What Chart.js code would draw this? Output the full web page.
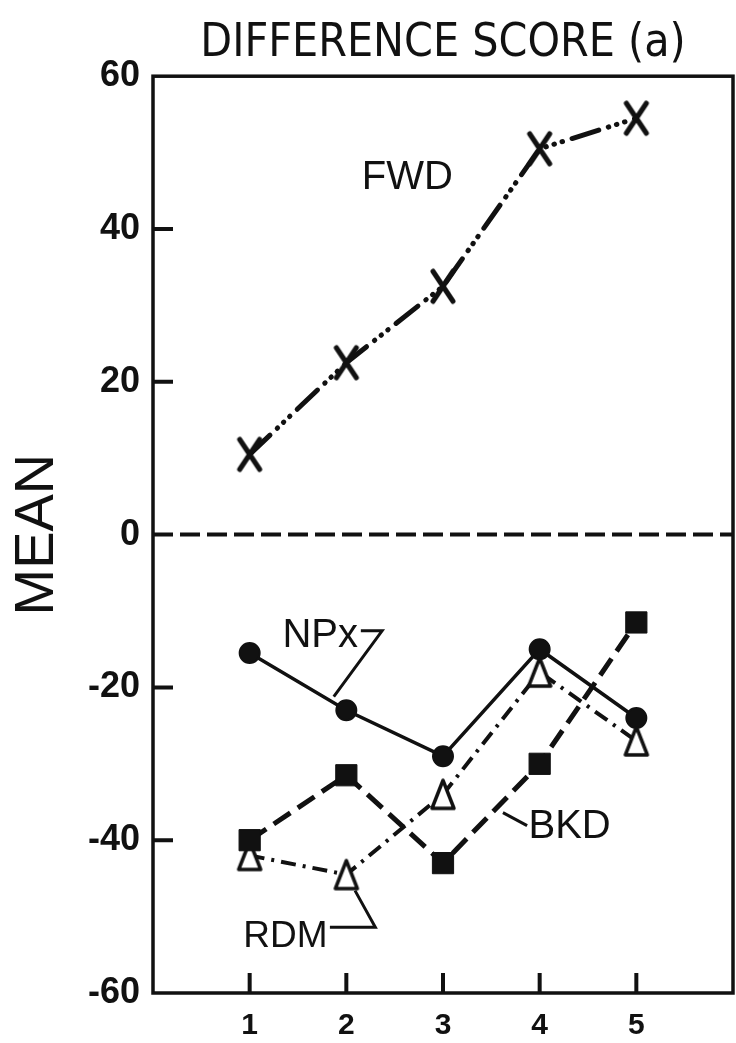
<!DOCTYPE html>
<html>
<head>
<meta charset="utf-8">
<script src="https://cdn.jsdelivr.net/npm/chart.js@4/dist/chart.umd.min.js"></script>
<style>
    html, body { margin: 0; padding: 0; background: #fff; }
    #chart { display: block; }
</style>
</head>
<body>
<canvas id="chart" width="736" height="1043"></canvas>
<script>
// ---- Data ----

const sessions = [1, 2, 3, 4, 5];
const fwdMeans = [10.5, 22.5, 32.5, 50.5, 54.5];
const npxMeans = [-15.5, -23, -29, -15, -24];
const bkdMeans = [-40, -31.5, -43, -30, -11.5];
const rdmMeans = [-42, -44.5, -34, -18, -27];
const yTickValues = [-60, -40, -20, 0, 20, 40, 60];

const INK = '#111';
const SANS = '"Liberation Sans", Arial, sans-serif';

// ---- Marker images ----

function crossMarker() {
    const c = document.createElement('canvas');
    c.width = 30;
    c.height = 38;
    const g = c.getContext('2d');
    g.strokeStyle = INK;
    g.lineWidth = 5;
    g.lineCap = 'round';
    g.beginPath();
    g.moveTo(5, 4); g.lineTo(25, 34);
    g.moveTo(25, 4); g.lineTo(5, 34);
    g.stroke();
    return c;
}

function openTriangle() {
    const c = document.createElement('canvas');
    c.width = 28;
    c.height = 34;
    const g = c.getContext('2d');
    g.fillStyle = '#fff';
    g.strokeStyle = INK;
    g.lineWidth = 3.5;
    g.lineJoin = 'round';
    g.beginPath();
    g.moveTo(14, 3); g.lineTo(25, 31); g.lineTo(3, 31);
    g.closePath();
    g.fill();
    g.stroke();
    return c;
}

function points(values) {
    return sessions.map((s, i) => ({ x: s, y: values[i] }));
}

// ---- Frame, zero line, inward ticks and series labels ----

const labelNotes = [
    { text: 'FWD', x: 2.63, y: 46.7, size: 40 },
    { text: 'NPx', x: 1.73, y: -13.3, size: 40, leader: [[2.15, -12.6], [2.37, -12.6], [1.87, -21.2]] },
    { text: 'BKD', x: 4.31, y: -38.3, size: 40, leader: [[3.62, -36.4], [3.87, -38.1]] },
    { text: 'RDM', x: 1.37, y: -52.6, size: 37, leader: [[1.83, -51.4], [2.30, -51.4], [2.09, -46.6]] }
];

const framePlugin = {
    id: 'frame',
    beforeDatasetsDraw(chart) {
        const { ctx, chartArea: a, scales: { x, y } } = chart;
        ctx.save();
        ctx.strokeStyle = INK;

        // dashed zero line
        const y0 = y.getPixelForValue(0);
        ctx.lineWidth = 4;
        ctx.setLineDash([20, 7]);
        ctx.beginPath();
        ctx.moveTo(a.left, y0);
        ctx.lineTo(a.right, y0);
        ctx.stroke();
        ctx.setLineDash([]);

        // box
        ctx.lineWidth = 3.5;
        ctx.strokeRect(a.left, a.top, a.right - a.left, a.bottom - a.top);

        // tick marks pointing into the plot
        ctx.lineWidth = 4;
        ctx.beginPath();
        yTickValues.forEach(v => {
            if (Math.abs(v) === 60 || v === 0) return;
            const py = y.getPixelForValue(v);
            ctx.moveTo(a.left, py);
            ctx.lineTo(a.left + 20, py);
        });
        sessions.forEach(s => {
            const px = x.getPixelForValue(s);
            ctx.moveTo(px, a.bottom);
            ctx.lineTo(px, a.bottom - 20);
        });
        ctx.stroke();
        ctx.restore();
    },
    afterDatasetsDraw(chart) {
        const { ctx, scales: { x, y } } = chart;
        ctx.save();
        ctx.fillStyle = INK;
        ctx.strokeStyle = INK;
        ctx.lineWidth = 3;
        ctx.textAlign = 'center';
        ctx.textBaseline = 'middle';
        labelNotes.forEach(n => {
            ctx.font = `${n.size}px ${SANS}`;
            ctx.fillText(n.text, x.getPixelForValue(n.x), y.getPixelForValue(n.y));
            if (n.leader) {
                ctx.beginPath();
                n.leader.forEach(([lx, ly], i) => {
                    const px = x.getPixelForValue(lx);
                    const py = y.getPixelForValue(ly);
                    if (i === 0) ctx.moveTo(px, py); else ctx.lineTo(px, py);
                });
                ctx.stroke();
            }
        });
        ctx.restore();
    }
};

// ---- Chart ----

const lineDefaults = {
    borderColor: INK,
    pointBorderColor: INK,
    tension: 0,
    fill: false
};

new Chart(document.getElementById('chart'), {
    type: 'line',
    data: {
        datasets: [
            {
                ...lineDefaults,
                label: 'NPx',
                data: points(npxMeans),
                borderWidth: 3.5,
                pointStyle: 'circle',
                pointRadius: 10,
                pointBorderWidth: 2,
                pointBackgroundColor: INK
            },
            {
                ...lineDefaults,
                label: 'BKD',
                data: points(bkdMeans),
                borderWidth: 5,
                borderDash: [20, 9],
                pointStyle: 'rect',
                pointRadius: 15,
                pointBorderWidth: 1,
                pointBackgroundColor: INK
            },
            {
                ...lineDefaults,
                label: 'RDM',
                data: points(rdmMeans),
                borderWidth: 4,
                borderDash: [15, 7, 3, 7],
                pointStyle: openTriangle(),
                pointRadius: 12
            },
            {
                ...lineDefaults,
                label: 'FWD',
                data: points(fwdMeans),
                borderWidth: 5,
                borderCapStyle: 'round',
                borderDash: [28, 10, 0.5, 8, 0.5, 8, 0.5, 10],
                pointStyle: crossMarker(),
                pointRadius: 14
            }
        ]
    },
    options: {
        responsive: false,
        devicePixelRatio: 1,
        animation: false,
        events: [],
        layout: { autoPadding: false, padding: { top: 0, right: 3, bottom: 0, left: 0 } },
        plugins: {
            legend: { display: false },
            tooltip: { enabled: false },
            title: {
                display: true,
                text: 'DIFFERENCE SCORE (a)',
                color: INK,
                fullSize: false,
                font: { family: '"DejaVu Sans Condensed", "DejaVu Sans", sans-serif', size: 46, weight: 'normal', lineHeight: 1.2 },
                padding: { top: 16, bottom: 5 }
            }
        },
        scales: {
            x: {
                type: 'linear',
                min: 0,
                max: 6,
                afterFit: s => {
                    s.height = 50;
                    s.paddingLeft = 0;
                    s.paddingRight = 0;
                },
                grid: { display: false, drawTicks: false },
                border: { display: false },
                ticks: {
                    stepSize: 1,
                    padding: 15,
                    color: INK,
                    font: { family: SANS, size: 30, weight: 'bold' },
                    callback: v => (v >= 1 && v <= 5 ? String(v) : '')
                }
            },
            y: {
                min: -60,
                max: 60,
                afterFit: s => { s.width = 153; },
                afterBuildTicks: s => { s.ticks = yTickValues.map(v => ({ value: v })); },
                grid: { display: false, drawTicks: false },
                border: { display: false },
                ticks: {
                    padding: 13,
                    color: INK,
                    font: { family: SANS, size: 36, weight: 'bold' }
                },
                title: {
                    display: true,
                    text: 'MEAN',
                    color: INK,
                    font: { family: SANS, size: 56 },
                    padding: { top: 4, bottom: 0 }
                }
            }
        }
    },
    plugins: [framePlugin]
});
</script>
</body>
</html>
